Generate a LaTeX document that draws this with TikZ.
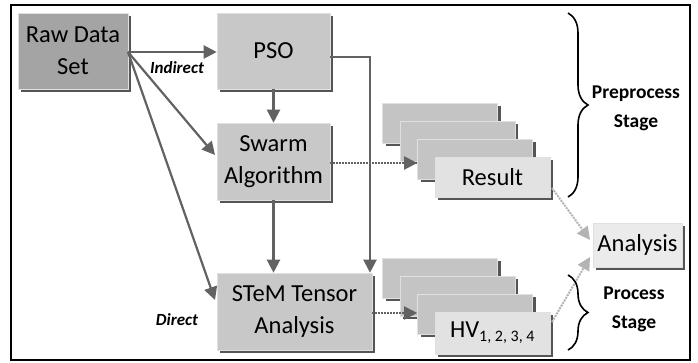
\documentclass[tikz,border=0pt]{standalone}
\usepackage{fontspec}
\setmainfont{Carlito}
\usetikzlibrary{arrows.meta,shadows,decorations.pathreplacing,calc}
\definecolor{rawgray}{HTML}{A4A4A4}
\definecolor{boxgray}{HTML}{C8C8C8}
\definecolor{cardgray}{HTML}{C4C4C4}
\definecolor{frontgray}{HTML}{E2E2E2}
\definecolor{anagray}{HTML}{EBEBEB}
\definecolor{linegray}{HTML}{626262}
\definecolor{lightline}{HTML}{B4B4B4}
\definecolor{shadowgray}{HTML}{555555}
\begin{document}
\begin{tikzpicture}[x=1pt,y=-1pt,
  boxbase/.style={rectangle,inner sep=0pt,align=center,
    draw=white!88!black,line width=0.6pt,
    font=\fontsize{24.5}{32}\selectfont,
    drop shadow={shadow xshift=3pt,shadow yshift=-3pt,fill=shadowgray,opacity=1}},
  rawbox/.style={boxbase,fill=rawgray},
  procbox/.style={boxbase,fill=boxgray},
  cardbox/.style={boxbase,fill=cardgray,minimum width=115pt,minimum height=40pt},
  frontcard/.style={boxbase,fill=frontgray,minimum width=115pt,minimum height=40pt},
  anabox/.style={boxbase,fill=anagray},
  arr/.style={draw=linegray,line width=2.2pt,-{Triangle[length=13pt,width=13pt]}},
  dotarr/.style={draw=linegray,line width=2pt,densely dotted,-{Triangle[length=13pt,width=13pt]}},
  lightarr/.style={draw=lightline,line width=2pt,densely dotted,-{Triangle[length=13pt,width=13pt]}},
  edgelabel/.style={font=\fontsize{17}{20}\selectfont\bfseries\itshape},
  stagelabel/.style={align=center,font=\fontsize{19.5}{29}\selectfont\bfseries},
  bracestyle/.style={draw=black,line width=1.6pt,decorate,decoration={brace,amplitude=20pt}}
]
\useasboundingbox (0,0) rectangle (698,363);
\draw[line width=1.8pt] (11,5) rectangle (690,360);

% main boxes
\node[rawbox,minimum width=110pt,minimum height=76pt] (raw) at (73,51) {Raw Data\\Set};
\node[procbox,minimum width=113pt,minimum height=76pt] (pso) at (273.5,51) {PSO};
\node[procbox,minimum width=113pt,minimum height=77pt] (swarm) at (273.5,161.5) {Swarm\\Algorithm};
\node[procbox,minimum width=155pt,minimum height=77pt] (stem) at (294.5,311.5) {STeM Tensor\\Analysis};
\node[anabox,minimum width=89pt,minimum height=44pt] (ana) at (637.5,245) {Analysis};

% result stack
\node[cardbox] (r0) at (440,123) {};
\node[cardbox] (r1) at (457.5,141) {};
\node[cardbox] (r2) at (475,159) {};
\node[frontcard] (res) at (492.5,177) {Result};

% HV stack
\node[cardbox] (h0) at (440,278) {};
\node[cardbox] (h1) at (457.5,296) {};
\node[cardbox] (h2) at (475,314) {};
\node[frontcard,minimum height=42pt] (hv) at (492.5,333) {HV\textsubscript{\fontsize{16}{18}\selectfont 1, 2, 3, 4}};

% coordinates
\coordinate (src) at (128,52);
\coordinate (swin) at (215,155);
\coordinate (stin) at (215,300);
\coordinate (psoout) at (330,57);
\coordinate (corner) at (370,57);
\coordinate (resout) at (552,188);
\coordinate (hvout) at (552,322);
\coordinate (anain1) at (590,240);
\coordinate (anain2) at (590,257);

% connectors
\draw[arr] (src) -- (pso.west |- src);
\draw[arr] (src) -- (swin);
\draw[arr] (src) -- (stin);
\draw[arr] (pso.south) -- (pso.south |- swarm.north);
\draw[arr] (swarm.south) -- (swarm.south |- stem.north);
\draw[arr] (psoout) -- (corner) -- (corner |- stem.north);
\draw[dotarr] (swarm.east |- 0,163) -- (r2.west |- 0,163);
\draw[dotarr] (stem.east |- 0,313) -- (h2.west |- 0,313);
\draw[lightarr] (resout) -- (anain1);
\draw[lightarr] (hvout) -- (anain2);

% labels
\node[edgelabel] (lind) at (177,68) {Indirect};
\node[edgelabel] (ldir) at (177,320) {Direct};

% braces
\coordinate (b1a) at (568,13);
\coordinate (b1b) at (568,197);
\coordinate (b2a) at (568,275);
\coordinate (b2b) at (568,350);
\draw[bracestyle] (b1a) -- (b1b);
\draw[bracestyle] (b2a) -- (b2b);
\node[stagelabel] (pre) at (636,108) {Preprocess\\Stage};
\node[stagelabel] (proc) at (634,309) {Process\\Stage};
\end{tikzpicture}
\end{document}
